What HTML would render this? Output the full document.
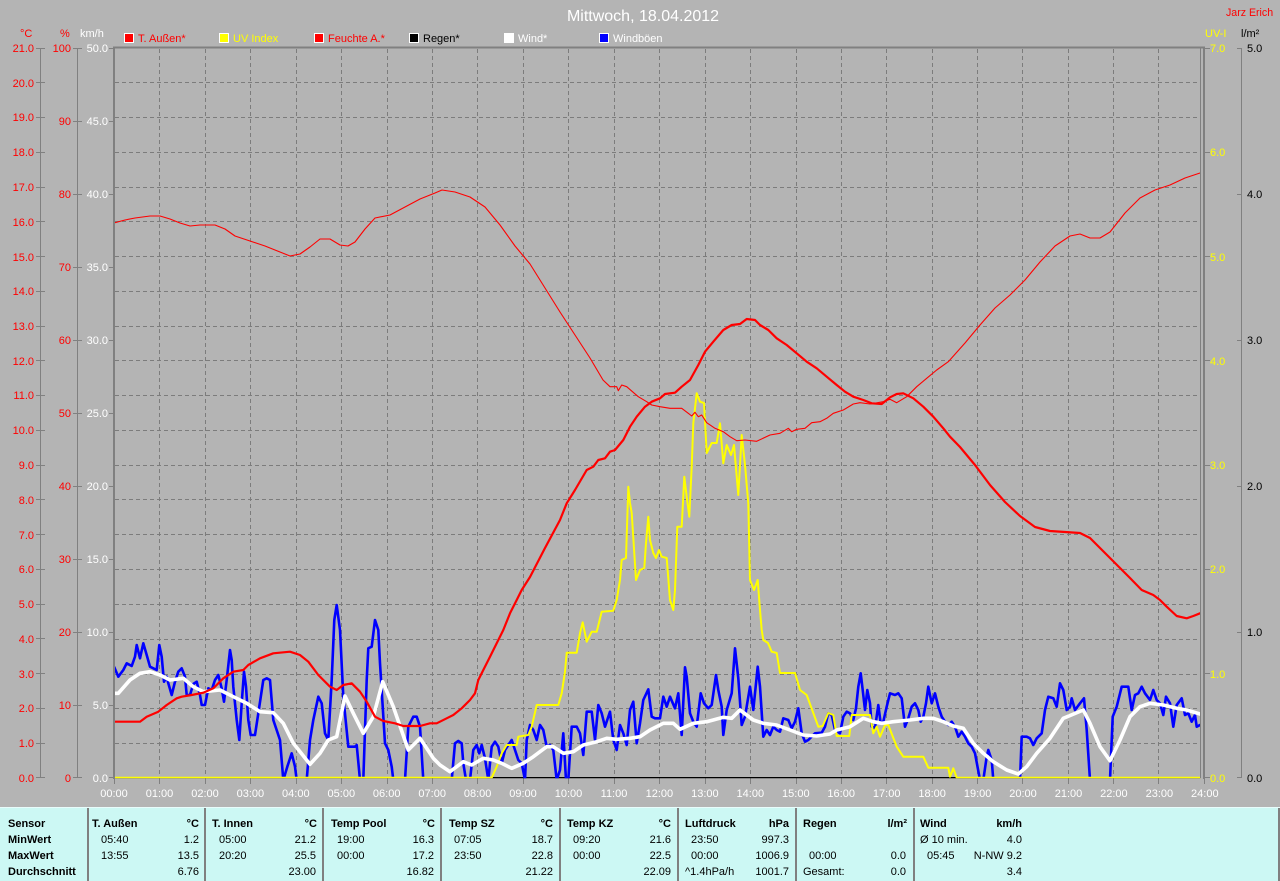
<!DOCTYPE html>
<html><head><meta charset="utf-8">
<style>
html,body{margin:0;padding:0;background:#b4b4b4;}
body{width:1280px;height:881px;overflow:hidden;}
svg{display:block;}
text{font-family:"Liberation Sans",sans-serif;font-size:11px;}
</style></head>
<body>
<svg width="1280" height="881" viewBox="0 0 1280 881" xmlns="http://www.w3.org/2000/svg">
<defs><clipPath id="pc"><rect x="115" y="49" width="1085.5" height="729.3"/></clipPath></defs>
<rect x="0" y="0" width="1280" height="881" fill="#b4b4b4"/>

<!-- title -->
<text x="643" y="21" text-anchor="middle" fill="#ffffff" style="font-size:16px">Mittwoch, 18.04.2012</text>
<text x="1226" y="16" fill="#ff0000" style="font-size:10.6px">Jarz Erich</text>

<!-- unit labels -->
<text x="20" y="37" fill="#ff0000">°C</text>
<text x="60" y="37" fill="#ff0000">%</text>
<text x="80" y="37" fill="#ffffff">km/h</text>
<text x="1205" y="37" fill="#ffff00">UV-I</text>
<text x="1241" y="37" fill="#000000">l/m²</text>

<!-- legend -->
<g stroke="#ffffff" stroke-width="1">
<rect x="124.5" y="33.5" width="9" height="9" fill="#ff0000"/>
<rect x="219.5" y="33.5" width="9" height="9" fill="#ffff00"/>
<rect x="314.5" y="33.5" width="9" height="9" fill="#ff0000"/>
<rect x="409.5" y="33.5" width="9" height="9" fill="#000000"/>
<rect x="504.5" y="33.5" width="9" height="9" fill="#ffffff"/>
<rect x="599.5" y="33.5" width="9" height="9" fill="#0000ff"/>
</g>
<text x="138" y="42" fill="#ff0000">T. Außen*</text>
<text x="233" y="42" fill="#ffff00">UV Index</text>
<text x="328" y="42" fill="#ff0000">Feuchte A.*</text>
<text x="423" y="42" fill="#000000">Regen*</text>
<text x="518" y="42" fill="#ffffff">Wind*</text>
<text x="613" y="42" fill="#ffffff">Windböen</text>

<!-- left axes lines & ticks -->
<g stroke="#808080" stroke-width="1" fill="none">
<path d="M40.5 48V778 M77.5 48V778 M1241.5 48V778"/>
<path d="M36 48.5H45 M36 82.5H45 M36 117.5H45 M36 152.5H45 M36 187.5H45 M36 221.5H45 M36 256.5H45 M36 291.5H45 M36 326.5H45 M36 360.5H45 M36 395.5H45 M36 430.5H45 M36 465.5H45 M36 499.5H45 M36 534.5H45 M36 569.5H45 M36 604.5H45 M36 638.5H45 M36 673.5H45 M36 708.5H45 M36 743.5H45 M36 777.5H45"/>
<path d="M73 48.5H82 M73 121.5H82 M73 194.5H82 M73 267.5H82 M73 340.5H82 M73 413.5H82 M73 486.5H82 M73 559.5H82 M73 632.5H82 M73 705.5H82 M73 777.5H82"/>
<path d="M109 48.5H114 M109 121.5H114 M109 194.5H114 M109 267.5H114 M109 340.5H114 M109 413.5H114 M109 486.5H114 M109 559.5H114 M109 632.5H114 M109 705.5H114 M109 777.5H114"/>
<path d="M1204 48.5H1210 M1204 152.5H1210 M1204 256.5H1210 M1204 360.5H1210 M1204 465.5H1210 M1204 569.5H1210 M1204 673.5H1210 M1204 777.5H1210"/>
<path d="M1237 48.5H1242 M1237 194.5H1242 M1237 340.5H1242 M1237 486.5H1242 M1237 632.5H1242 M1237 777.5H1242"/>
</g>

<!-- °C labels -->
<g fill="#ff0000" text-anchor="end">
<text x="34" y="52">21.0</text><text x="34" y="87">20.0</text><text x="34" y="121">19.0</text><text x="34" y="156">18.0</text><text x="34" y="191">17.0</text><text x="34" y="226">16.0</text><text x="34" y="261">15.0</text><text x="34" y="295">14.0</text><text x="34" y="330">13.0</text><text x="34" y="365">12.0</text><text x="34" y="399">11.0</text><text x="34" y="434">10.0</text><text x="34" y="469">9.0</text><text x="34" y="504">8.0</text><text x="34" y="539">7.0</text><text x="34" y="573">6.0</text><text x="34" y="608">5.0</text><text x="34" y="643">4.0</text><text x="34" y="678">3.0</text><text x="34" y="712">2.0</text><text x="34" y="747">1.0</text><text x="34" y="782">0.0</text>
</g>
<!-- % labels -->
<g fill="#ff0000" text-anchor="end">
<text x="71" y="52">100</text><text x="71" y="125">90</text><text x="71" y="198">80</text><text x="71" y="271">70</text><text x="71" y="344">60</text><text x="71" y="417">50</text><text x="71" y="490">40</text><text x="71" y="563">30</text><text x="71" y="636">20</text><text x="71" y="709">10</text><text x="71" y="782">0</text>
</g>
<!-- km/h labels -->
<g fill="#ffffff" text-anchor="end">
<text x="108" y="52">50.0</text><text x="108" y="125">45.0</text><text x="108" y="198">40.0</text><text x="108" y="271">35.0</text><text x="108" y="344">30.0</text><text x="108" y="417">25.0</text><text x="108" y="490">20.0</text><text x="108" y="563">15.0</text><text x="108" y="636">10.0</text><text x="108" y="709">5.0</text><text x="108" y="782">0.0</text>
</g>
<!-- UV labels -->
<g fill="#ffff00">
<text x="1210" y="52">7.0</text><text x="1210" y="156">6.0</text><text x="1210" y="261">5.0</text><text x="1210" y="365">4.0</text><text x="1210" y="469">3.0</text><text x="1210" y="573">2.0</text><text x="1210" y="678">1.0</text><text x="1210" y="782">0.0</text>
</g>
<!-- l/m2 labels -->
<g fill="#000000">
<text x="1247" y="52">5.0</text><text x="1247" y="198">4.0</text><text x="1247" y="344">3.0</text><text x="1247" y="490">2.0</text><text x="1247" y="636">1.0</text><text x="1247" y="782">0.0</text>
</g>

<!-- grid -->
<g stroke="#7c7c7c" stroke-width="1" stroke-dasharray="4 3" fill="none">
<path d="M115 82.5H1200 M115 117.5H1200 M115 152.5H1200 M115 187.5H1200 M115 221.5H1200 M115 256.5H1200 M115 291.5H1200 M115 326.5H1200 M115 360.5H1200 M115 395.5H1200 M115 430.5H1200 M115 465.5H1200 M115 499.5H1200 M115 534.5H1200 M115 569.5H1200 M115 604.5H1200 M115 639.5H1200 M115 674.5H1200 M115 708.5H1200 M115 743.5H1200"/>
<path d="M159.5 49V777 M205.5 49V777 M250.5 49V777 M296.5 49V777 M341.5 49V777 M387.5 49V777 M432.5 49V777 M477.5 49V777 M523.5 49V777 M568.5 49V777 M614.5 49V777 M659.5 49V777 M705.5 49V777 M750.5 49V777 M796.5 49V777 M841.5 49V777 M886.5 49V777 M932.5 49V777 M977.5 49V777 M1022.5 49V777 M1068.5 49V777 M1113.5 49V777 M1158.5 49V777"/>
</g>

<!-- x ticks -->
<g stroke="#808080" stroke-width="1">
<path d="M114.5 778V784 M159.5 778V784 M205.5 778V784 M250.5 778V784 M296.5 778V784 M341.5 778V784 M387.5 778V784 M432.5 778V784 M477.5 778V784 M523.5 778V784 M568.5 778V784 M614.5 778V784 M659.5 778V784 M705.5 778V784 M750.5 778V784 M796.5 778V784 M841.5 778V784 M886.5 778V784 M932.5 778V784 M977.5 778V784 M1022.5 778V784 M1068.5 778V784 M1113.5 778V784 M1158.5 778V784 M1204.5 778V784"/>
</g>
<g fill="#ffffff" text-anchor="middle">
<text x="114" y="797">00:00</text><text x="159.5" y="797">01:00</text><text x="205" y="797">02:00</text><text x="250.4" y="797">03:00</text><text x="295.8" y="797">04:00</text><text x="341.3" y="797">05:00</text><text x="386.7" y="797">06:00</text><text x="432.2" y="797">07:00</text><text x="477.6" y="797">08:00</text><text x="523" y="797">09:00</text><text x="568.5" y="797">10:00</text><text x="614" y="797">11:00</text><text x="659.4" y="797">12:00</text><text x="704.9" y="797">13:00</text><text x="750.3" y="797">14:00</text><text x="795.8" y="797">15:00</text><text x="841.2" y="797">16:00</text><text x="886.7" y="797">17:00</text><text x="932.1" y="797">18:00</text><text x="977.6" y="797">19:00</text><text x="1023" y="797">20:00</text><text x="1068.5" y="797">21:00</text><text x="1113.9" y="797">22:00</text><text x="1159.4" y="797">23:00</text><text x="1204.8" y="797">24:00</text>
</g>

<!-- series -->
<g clip-path="url(#pc)" fill="none" stroke-linejoin="round" stroke-linecap="round">
<line x1="114" y1="777.7" x2="1200" y2="777.7" stroke="#000000" stroke-width="1.5"/>
<!-- gusts -->
<polyline stroke="#0000ff" stroke-width="2.6" points="114.3,667.3 118.3,676.7 123.3,670 126.7,663.3 131.7,666 135,656.7 136.7,645 140,658.3 143.3,643.3 146.7,655 150,666.7 153.3,668.3 156.7,670 159.3,645 161.7,656.7 164,681.7 166.7,676.7 168.3,683.3 171.7,695 175,681.7 178.3,671.7 181.7,668.3 185,676.7 186.7,695 190,695 193.3,684 196.7,681.7 200,695 201.7,705 205,705 208.3,688.3 211.7,690 215,680 218.3,675 221.7,688.3 224,701.7 226.7,680 230,650 231.7,660 233.3,686.7 236.7,720 239.3,740 241.7,703.3 244,671.7 246,686.7 248.3,720 250.7,735 255,735 258.3,713.3 263.3,680 266.7,678.3 270,680 273.3,720 280,740 283.3,780 287.3,766.7 291.7,753.3 295,766.7 296.7,780 306.7,780 310,740 313.3,720 318.3,696.7 321.7,703.3 325,733.3 328.3,740 331.7,680 334.3,620 336.7,605 340,630 343.3,696.7 348.3,746.7 355,746.7 356.7,745 360,780 363.3,780 366.7,680 368.3,648.3 371.7,646.7 375,620 378.3,630 380,663.3 385,743.3 388.3,750 391.7,766.7 393.3,780 405,780 408.3,726.7 413.3,716.7 416.7,716.7 420,726.7 423.3,780 451.7,780 455,743.3 458.3,741 461.7,743.3 463.3,763.3 466,780 470,780 473.3,750 476.7,745 479.3,753.3 481.7,745 485,758.3 488.3,780 491.7,746.7 495,741.7 498.3,746.7 501.7,763.3 505,750 508.3,745 511.7,740 515,750 518.3,760 521.7,763.3 525,780 526.7,740 530,725 533.3,730 536.7,740 540,725 543.3,730 546.7,746.7 550,745 553.3,750 556.7,780 560,770 563.3,733.3 566,780 568.3,780 571.7,726.7 576.7,726.7 580,733.3 583.3,755 586.7,711.7 591.7,711.7 595,740 598.3,705 601.7,713.3 605,726.7 610,711.7 613.3,740 616.7,750 620,725 623.3,733.3 626.7,745 630,710 633.3,701.7 636.7,743.3 640,723.3 643.3,700 648.3,689.3 651.7,716.7 655,718.3 660,718.3 663.3,696.7 666.7,706.7 670,696.7 675,708.3 678.3,693.3 681.7,735 685,667.3 686.7,676.7 690,713.3 693.3,721.7 696.7,726.7 700.7,693.3 704,703.3 708.3,708.3 711.7,705 716,675 718.3,690 721.7,706.7 723.3,735 726.7,710 731.7,693.3 735,648.3 738.3,678.3 741.7,725 745,716.7 750,686.7 753.3,710 755,693.3 757.7,666.7 760,686.7 763.3,736.7 766.7,730 770,735 773.3,726.7 776.7,730 780,731.7 783.3,718.3 788.3,720 791.7,728.3 795,721.7 798.3,708.3 801.7,733.3 805,741.7 808.3,740 815,733.3 821.7,732.7 825,726.7 828.3,713.3 831.7,715 835,730 840,733.3 843.3,716.7 846.7,711.7 850,713.3 853.3,720 856,708.3 858.3,686.7 860.7,673.3 862.7,690 865,710 867.3,690 870,703.3 871.7,726.7 875,728.3 878.3,705 880.7,723.3 883.3,721.7 886.7,706.7 890,693.3 895,695 898.3,693.3 901.7,698.3 905,726.7 908.3,718.3 911.7,706.7 915,703.3 918.3,710 920.7,721.7 923.3,716.7 926,703.3 928.3,686.7 931.7,703.3 935,693.3 938.3,706.7 941.7,716.7 945,721.7 948.3,725 951.7,721.7 955,726.7 958.3,736.7 961.7,731.7 965,736.7 968.3,743.3 971.7,746.7 975,753.3 980,780 983.3,780 986.7,756.7 988.3,750 991.7,760 993.3,780 1020,780 1021.7,736.7 1026.7,736.7 1030,738.3 1033.3,745 1036.7,738.3 1041.7,733.3 1045,710 1048.3,696.7 1053.3,698.3 1056.7,706.7 1060,683.3 1063.3,690 1066.7,710 1070,706.7 1071.7,698.3 1075,710 1080,703.3 1084,698.3 1086.7,730 1090,780 1110,780 1112.7,716.7 1116.7,706.7 1121.7,686.7 1128.3,686.7 1131.7,710 1135,695 1138.3,693.3 1141.7,686.7 1145,693.3 1150,700 1153.3,690 1156.7,700 1160,703.3 1163.3,715 1166,696.7 1170,703.3 1173.3,726.7 1176.7,705 1181.7,698.3 1185,715 1188.3,713.3 1191.7,721.7 1195,715 1196.7,726.7 1200,725"/>
<!-- UV -->
<polyline stroke="#ffff00" stroke-width="2" points="114,777.7 491.7,777.7 496.7,766.7 501.7,753.3 506.7,745 516.7,745 518.3,736.7 528.3,735 531.7,726.7 536.7,705 558.3,705 561.7,693.3 565,671.7 566.7,652.7 576.7,652.7 580,633.3 582.7,622.3 586.7,641.7 591.7,631.7 596.7,631.7 601.7,611.7 613.3,610.7 616.7,600 620,580 621.7,560 626,558 628.3,486.7 630,503 631.7,513 633,533 636,580 640,570 644.3,568 646,543 648.3,516.7 650,540 653.3,553 656,558 659,550 661.7,556.7 666.7,558 670,600 673.3,610 675,590 677.3,526.7 681.7,526.7 684.3,476.7 686.7,496.7 689.3,516.7 691.7,466.7 693.3,423.3 696.7,393.3 700,401.7 704,403 706.7,453 711.7,443 716.7,443 720,423.3 723.3,463.3 726.7,445 731,455 734,445 738.3,495 741.7,435 745,465 748.3,503.3 750,580 754,590 757.7,580 760,610 761.7,630 763.3,640 768,643 771.7,651.7 776.7,653 780,673 795,673 800,690 806.7,695 813.3,713 818.3,726.7 822.7,726 828.3,713 833.3,715 836.7,736 849.3,736 851.7,715 870,715 873.3,733.3 876.7,726.7 880,736.7 885,725 888.3,725 896.7,746.7 903.3,756.7 923.3,756.7 928.3,767.7 948.3,767.7 950,776.7 953.3,768.3 956.7,777.7 1200,777.7"/>
<!-- wind avg -->
<polyline stroke="#ffffff" stroke-width="3.6" points="114.3,693.3 118.3,693.3 130,680 140,673.3 150,671.7 160,675 170,680 183.3,678.3 193.3,686.7 203.3,691.7 220,690 233.3,696.7 246.7,703.3 260,711.7 273.3,712.7 283.3,723.3 293.3,743.3 310,764.3 320,753.3 328.3,740 336.7,736.7 345,696 353.3,713.3 363.3,733.3 373.3,716.7 382.7,681.7 393.3,706.7 408.3,750 420,738.3 433.3,758.3 440,765 450,771.7 463.3,761.7 471.7,765 483.3,758.3 493.3,760 501.7,763.3 511.7,768.3 523.3,763.3 533.3,756.7 546.7,746.7 553.3,746.7 563.3,753.3 573.3,751.7 583.3,745 596.7,741.7 606.7,738.3 616.7,739.3 630,738.3 640,736.7 650,730 663.3,723.3 673.3,723.3 680,729.3 693.3,723.3 706.7,721.7 723.3,717.3 731.7,718.3 740,710 753.3,720 763.3,723.3 776.7,725 790,730 803.3,735 816.7,736 830,734 836.7,730 850,726.7 863.3,718.3 873.3,721.7 881.7,723.3 893.3,721.7 910,720 923.3,718.3 933.3,718.3 943.3,721.7 953.3,726 963.3,728.3 973.3,743.3 983.3,753.3 993.3,761.7 1006.7,770 1018.3,774 1026.7,766.7 1036.7,753.3 1050,738.3 1063.3,718.3 1083.3,710 1090,723.3 1100,746.7 1110,760.7 1120,740 1130,716.7 1140,706.7 1150,703.3 1163.3,705 1176.7,708.3 1186.7,710 1200,714"/>
<!-- humidity -->
<polyline stroke="#ff0000" stroke-width="1.1" points="114,223 125,220 135,218 150,216 160,216 170,219 180,223 190,226 200,225 215,225 225,229 235,236 250,241 265,246 280,252 290,256 300,254 310,247 320,239 330,239 340,245 348,246 355,242 365,229 375,218 390,215 405,207 420,199 435,193 442,190 455,192 470,197 485,207 500,225 515,246 530,264 545,288 560,312 575,335 590,358 603,380 610,386.7 616.7,386.7 618.3,390.7 621.7,385 626.7,386.7 638.3,396.7 646.7,401.7 651.7,405 660,406.7 670,408.3 681.7,408.3 688.3,413.3 691.7,416 695,412.3 698.3,416.7 701.7,415 706.7,422.7 715,428.3 723.3,431.7 730,436.7 736.7,440.7 745,440 756.7,441.3 770,435 780,433.3 788.3,428.3 791.7,431.7 796.7,429.3 805,428.3 811.7,422.7 820,421.7 826.7,418.3 833.3,413.3 843.3,410 853.3,404 860,402.7 870,404 883.3,401.7 890,399.3 896.7,402.7 906.7,396.7 916.7,386.7 926.7,378.3 936.7,370 948.3,361.7 965,343 980,325 995,308 1010,295 1025,280 1040,262 1055,246 1070,236 1080,234 1090,238 1100,238 1110,232 1125,213 1140,198 1155,190 1170,185 1185,178 1200,173"/>
<!-- temperature -->
<polyline stroke="#ff0000" stroke-width="2.2" points="114,721.7 140,721.7 146.7,716.7 158.3,711.7 166.7,705 176.7,698.3 181.7,696.7 191.7,695 203.3,692.7 213.3,688.3 223.3,678.3 233.3,671.7 243.3,670 248.3,665 260,658.3 273.3,653.3 290,651.7 300,655 308.3,661.7 318.3,675 330,686.7 336.7,690 343.3,685 351.7,683.3 360,691.7 366.7,701.7 375,716.7 383.3,721 395,723.3 403.3,726 420,726 430,723.3 436.7,723.3 446.7,718.3 453.3,715 461.7,708.3 470,700 475,693.3 478.3,680 483.3,670 490,656.7 496.7,643.3 503.3,630 510,613.3 516.7,600 521.7,590 530,577 545,548 560,520 566.7,503.3 575,490 586.7,470 593.3,466.7 598.3,460 605,458.3 610,451.7 615,450 623.3,440 630,426.7 636.7,416.7 645,406.7 651.7,401.7 660,398.3 665,394 675,392.7 681.7,386.7 690,380 698.3,365 705,351.7 713.3,341.7 723.3,330 731.7,325 740,324 746.7,319 755,320 760,325 768.3,330 776.7,338.3 786.7,345 796.7,353.3 806.7,361.7 816.7,368.3 826.7,376.7 836.7,385 845,391.7 853.3,396.7 863.3,400 871.7,403.3 881.7,404 890,397.3 896.7,394 903.3,393.3 913.3,398.3 923.3,406.7 933.3,416.7 943.3,428.3 950,436.7 960,447 975,465 990,485 1005,502 1020,516 1035,527 1050,531 1065,532 1080,533 1090,538 1100,548 1115,563 1130,578 1141.7,590 1153.3,595 1160,600 1166.7,606.7 1176.7,616 1186.7,618.3 1193.3,616 1200,613.3"/>
</g>

<!-- plot frame -->
<g stroke="#808080" fill="none">
<path d="M113 47.5H1205" stroke-width="2"/>
<path d="M114 47V779" stroke-width="2"/>
<path d="M1200.5 48V778" stroke-width="1"/>
<path d="M1204 47V779" stroke-width="2"/>
</g>

<!-- table -->
<rect x="0" y="807" width="1280" height="74" fill="#ccf8f4"/>
<line x1="0" y1="807.5" x2="1280" y2="807.5" stroke="#e8fcfb" stroke-width="1"/>
<g stroke="#808080" stroke-width="2">
<path d="M88 808V881 M205 808V881 M323 808V881 M441 808V881 M560 808V881 M678 808V881 M796 808V881 M914 808V881 M1279 808V881"/>
</g>
<g fill="#000000" font-weight="bold" style="font-size:11.6px">
<text x="8" y="827">Sensor</text>
<text x="8" y="843">MinWert</text>
<text x="8" y="859">MaxWert</text>
<text x="8" y="875">Durchschnitt</text>
<text x="92" y="827">T. Außen</text><text x="199" y="827" text-anchor="end">°C</text>
<text x="212" y="827">T. Innen</text><text x="317" y="827" text-anchor="end">°C</text>
<text x="331" y="827">Temp Pool</text><text x="435" y="827" text-anchor="end">°C</text>
<text x="449" y="827">Temp SZ</text><text x="553" y="827" text-anchor="end">°C</text>
<text x="567" y="827">Temp KZ</text><text x="671" y="827" text-anchor="end">°C</text>
<text x="685" y="827">Luftdruck</text><text x="789" y="827" text-anchor="end">hPa</text>
<text x="803" y="827">Regen</text><text x="907" y="827" text-anchor="end">l/m²</text>
<text x="920" y="827">Wind</text><text x="1022" y="827" text-anchor="end">km/h</text>
</g>
<g fill="#000000">
<text x="101" y="843">05:40</text><text x="199" y="843" text-anchor="end">1.2</text>
<text x="101" y="859">13:55</text><text x="199" y="859" text-anchor="end">13.5</text>
<text x="199" y="875" text-anchor="end">6.76</text>

<text x="219" y="843">05:00</text><text x="316" y="843" text-anchor="end">21.2</text>
<text x="219" y="859">20:20</text><text x="316" y="859" text-anchor="end">25.5</text>
<text x="316" y="875" text-anchor="end">23.00</text>

<text x="337" y="843">19:00</text><text x="434" y="843" text-anchor="end">16.3</text>
<text x="337" y="859">00:00</text><text x="434" y="859" text-anchor="end">17.2</text>
<text x="434" y="875" text-anchor="end">16.82</text>

<text x="454" y="843">07:05</text><text x="553" y="843" text-anchor="end">18.7</text>
<text x="454" y="859">23:50</text><text x="553" y="859" text-anchor="end">22.8</text>
<text x="553" y="875" text-anchor="end">21.22</text>

<text x="573" y="843">09:20</text><text x="671" y="843" text-anchor="end">21.6</text>
<text x="573" y="859">00:00</text><text x="671" y="859" text-anchor="end">22.5</text>
<text x="671" y="875" text-anchor="end">22.09</text>

<text x="691" y="843">23:50</text><text x="789" y="843" text-anchor="end">997.3</text>
<text x="691" y="859">00:00</text><text x="789" y="859" text-anchor="end">1006.9</text>
<text x="685" y="875">^1.4hPa/h</text><text x="789" y="875" text-anchor="end">1001.7</text>

<text x="809" y="859">00:00</text><text x="906" y="859" text-anchor="end">0.0</text>
<text x="803" y="875">Gesamt:</text><text x="906" y="875" text-anchor="end">0.0</text>

<text x="920" y="843">Ø 10 min.</text><text x="1022" y="843" text-anchor="end">4.0</text>
<text x="927" y="859">05:45</text><text x="1022" y="859" text-anchor="end">N-NW 9.2</text>
<text x="1022" y="875" text-anchor="end">3.4</text>
</g>
</svg>
</body></html>
